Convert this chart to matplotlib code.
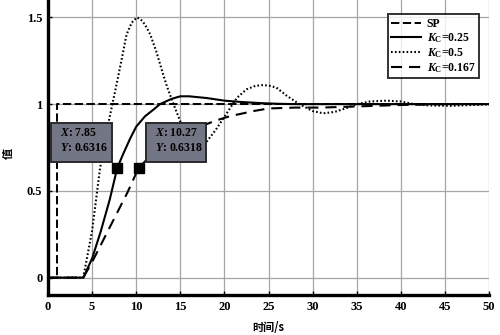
import matplotlib
matplotlib.use("Agg")
import matplotlib.pyplot as plt
from matplotlib.patches import Rectangle

# ---- data -------------------------------------------------------------
sp_t = [0, 1, 1, 50]
sp_v = [0, 0, 1, 1]

k025_t = [0, 4, 5, 6, 7, 7.85, 8.5, 9.3, 10, 11, 12, 12.7, 14, 15, 16, 17,
          18, 20, 22, 24, 26, 28, 30, 35, 40, 45, 50]
k025_v = [0, 0, 0.11, 0.27, 0.45, 0.6316, 0.71, 0.80, 0.87, 0.93, 0.97, 1.0,
          1.03, 1.045, 1.045, 1.04, 1.035, 1.02, 1.012, 1.006, 1.002, 1.0,
          1.0, 1.0, 1.0, 1.0, 1.0]

k05_t = [0, 4, 5, 5.9, 6.8, 7.8, 8.4, 8.9, 9.5, 10.1, 10.7, 11.2, 11.6,
         12.3, 13, 13.5, 14, 15, 16, 17, 18, 19, 20.3, 21.4, 22.5, 23.5,
         24.4, 25.2, 25.9, 27.1, 28.5, 30, 31.2, 32.5, 34, 35, 36.5, 38.4,
         40, 41.5, 43, 45.6, 48, 50]
k05_v = [0, 0, 0.27, 0.63, 0.88, 1.12, 1.27, 1.40, 1.47, 1.50, 1.48, 1.44,
         1.40, 1.30, 1.18, 1.10, 1.03, 0.90, 0.81, 0.77, 0.785, 0.85, 0.95,
         1.035, 1.085, 1.105, 1.11, 1.105, 1.095, 1.047, 1.0, 0.96, 0.947,
         0.955, 0.98, 1.0, 1.015, 1.02, 1.015, 1.0, 0.993, 0.99, 0.995,
         0.998]

k0167_t = [0, 4, 5, 6, 7, 8, 9, 10.27, 11, 12, 13, 14, 15, 16, 17, 18, 19,
           20.6, 23.3, 25, 28, 31, 34, 37, 40, 45, 50]
k0167_v = [0, 0, 0.09, 0.19, 0.29, 0.39, 0.49, 0.6318, 0.67, 0.72, 0.76,
           0.795, 0.825, 0.85, 0.868, 0.885, 0.905, 0.93, 0.96, 0.975, 0.98,
           0.98, 0.985, 0.99, 0.995, 1.0, 1.0]

tip_x = [7.85, 10.27]
tip_y = [0.6316, 0.6318]

x_ticks = [0, 5, 10, 15, 20, 25, 30, 35, 40, 45, 50]
y_ticks = [0, 0.5, 1, 1.5]
y_ticklabels = ["0", "0.5", "1", "1.5"]

# ---- style ------------------------------------------------------------
plt.rcParams["lines.scale_dashes"] = False
plt.rcParams["mathtext.fontset"] = "custom"
plt.rcParams["mathtext.rm"] = "Liberation Serif:bold"
plt.rcParams["mathtext.it"] = "Liberation Serif:italic:bold"
plt.rcParams["mathtext.bf"] = "Liberation Serif:bold"

serif = "Liberation Serif"
cjk = ["Noto Sans CJK SC", "DejaVu Sans"]

fig = plt.figure(figsize=(5.0, 3.35), dpi=100)
ax = fig.add_axes([0.096, 40 / 335, 0.882, 295 / 335])

ax.plot(sp_t, sp_v, color="black", lw=1.4, dashes=(6, 2.5), label="SP",
        zorder=3)
ax.plot(k025_t, k025_v, color="black", lw=1.5,
        label=r"$K_\mathrm{C}$=0.25", zorder=3)
ax.plot(k05_t, k05_v, color="black", lw=1.5, dashes=(1.2, 1.6),
        label=r"$K_\mathrm{C}$=0.5", zorder=3)
ax.plot(k0167_t, k0167_v, color="black", lw=1.5, dashes=(8, 5),
        label=r"$K_\mathrm{C}$=0.167", zorder=3)

ax.plot(tip_x, tip_y, linestyle="none", marker="s", markersize=7.5,
        color="black", zorder=4)

# data tip boxes
boxes = [(0.34, 7.26), (11.1, 17.9)]
for (x0, x1), tx, ty in zip(boxes, tip_x, tip_y):
    ax.add_patch(Rectangle((x0, 0.665), x1 - x0, 0.225, facecolor="#737684",
                           edgecolor="#2a2a2a", lw=1.4, zorder=5))
    ax.text(x0 + 1.0, 0.835, r"$X$: " + f"{tx:g}", fontsize=8.5,
            family=serif, weight="bold", va="center", ha="left", zorder=6)
    ax.text(x0 + 1.0, 0.745, r"$Y$: " + f"{ty:.4f}", fontsize=8.5,
            family=serif, weight="bold", va="center", ha="left", zorder=6)

ax.set_xlim(0, 50)
ax.set_ylim(-0.1, 1.6)
ax.set_xticks(x_ticks)
ax.set_yticks(y_ticks)
ax.set_yticklabels(y_ticklabels)
for lab in ax.get_xticklabels() + ax.get_yticklabels():
    lab.set_family(serif)
    lab.set_weight("bold")
    lab.set_fontsize(9)
ax.tick_params(direction="in", length=3, width=1, pad=4, colors="black")

ax.grid(True, color="#a6a6a6", lw=0.9)
ax.set_axisbelow(True)
for side in ("top", "right"):
    ax.spines[side].set_visible(False)
for side in ("left", "bottom"):
    ax.spines[side].set_linewidth(2.4)

ax.set_xlabel("时间/s", family=cjk, weight="bold", fontsize=8, labelpad=6)
ax.set_ylabel("值", family=cjk, weight="bold", fontsize=8)
ax.yaxis.set_label_coords(-0.075, 0.48)

leg = ax.legend(loc="upper right", bbox_to_anchor=(0.978, 0.952),
                prop={"family": serif, "weight": "bold", "size": 8.5},
                frameon=True, fancybox=False, edgecolor="black",
                handlelength=2.5, handletextpad=0.5, labelspacing=0.1,
                borderpad=0.3, borderaxespad=0)
leg.get_frame().set_linewidth(1.4)
leg.set_zorder(7)

fig.savefig("out.png", dpi=100, facecolor="white")
